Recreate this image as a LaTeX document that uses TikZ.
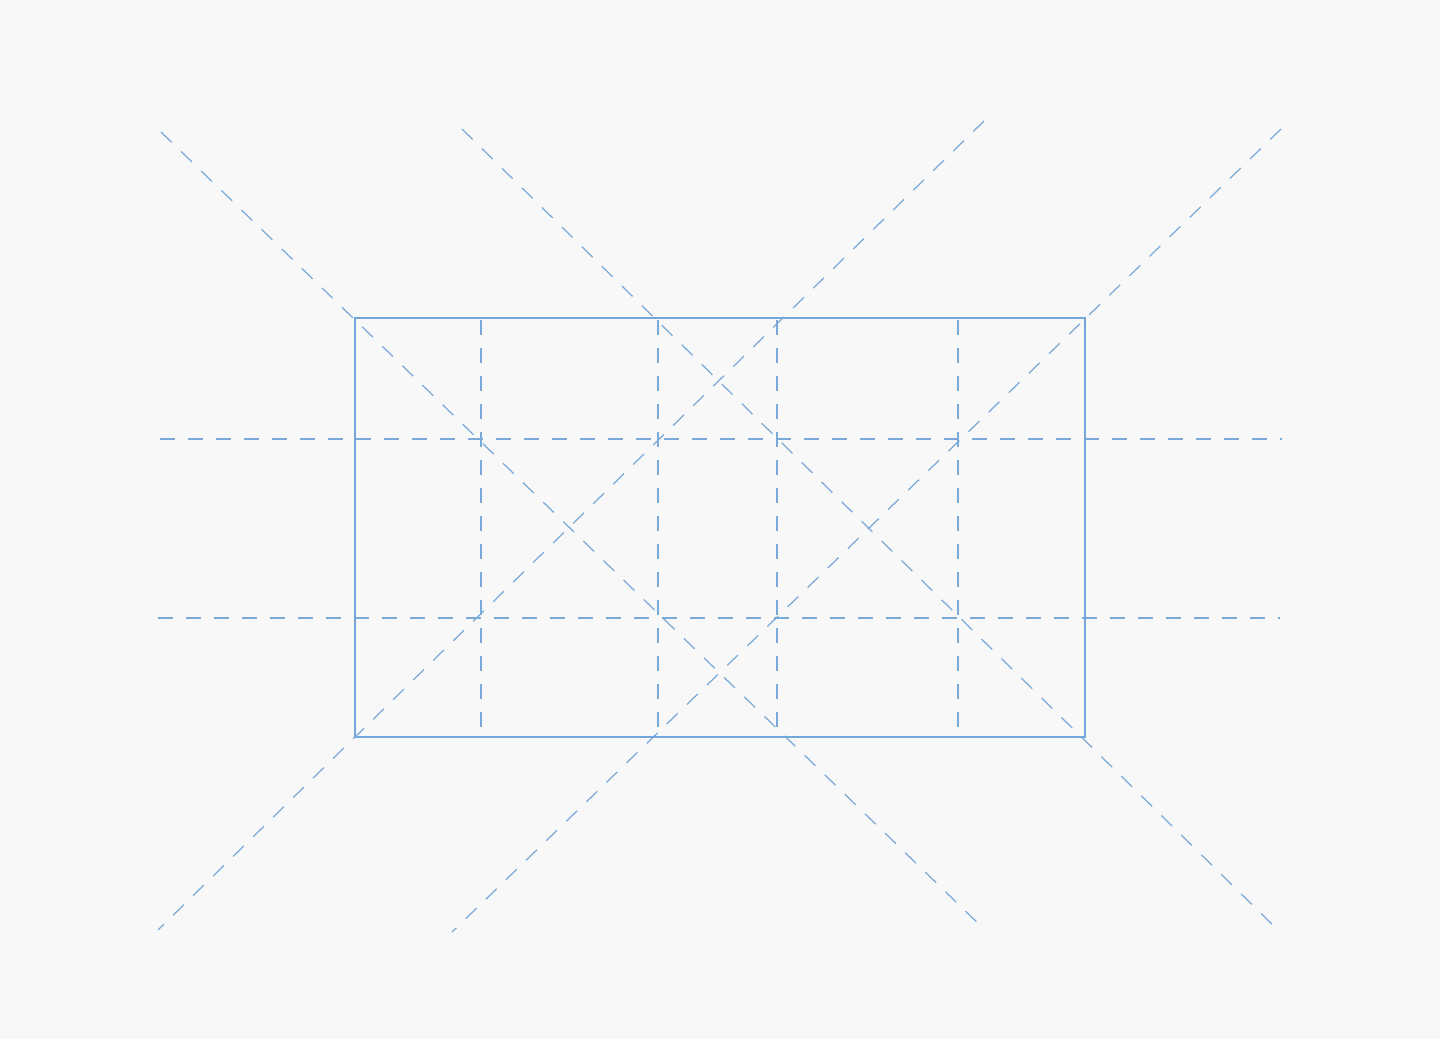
\documentclass[tikz,border=0pt]{standalone}
\definecolor{bg}{HTML}{F8F8F8}
\definecolor{guide}{HTML}{7AAAD9}
\definecolor{framec}{HTML}{72A7DA}
\begin{document}
\begin{tikzpicture}[x=1pt,y=-1pt,
  guideline/.style={draw=guide, line width=1.25pt, dash pattern=on 15pt off 13pt},
  frame/.style={draw=framec, line width=1.25pt}]
\fill[bg] (0,0) rectangle (1440,1039);
\useasboundingbox (0,0) rectangle (1440,1039);
% horizontal guides
\draw[guideline] (160,439) -- (1282,439);
\draw[guideline] (158,618) -- (1280,618);
% vertical guides
\foreach \x in {481,658,777,958} \draw[guideline] (\x,320) -- (\x,737);
% diagonals
\draw[guideline] (161,132) -- (985,930);
\draw[guideline] (462,129) -- (1278,930);
\draw[guideline] (984,121) -- (158,930);
\draw[guideline] (1281,129) -- (452,932);
% frame
\draw[frame] (355,318) rectangle (1085,737);
\end{tikzpicture}
\end{document}
